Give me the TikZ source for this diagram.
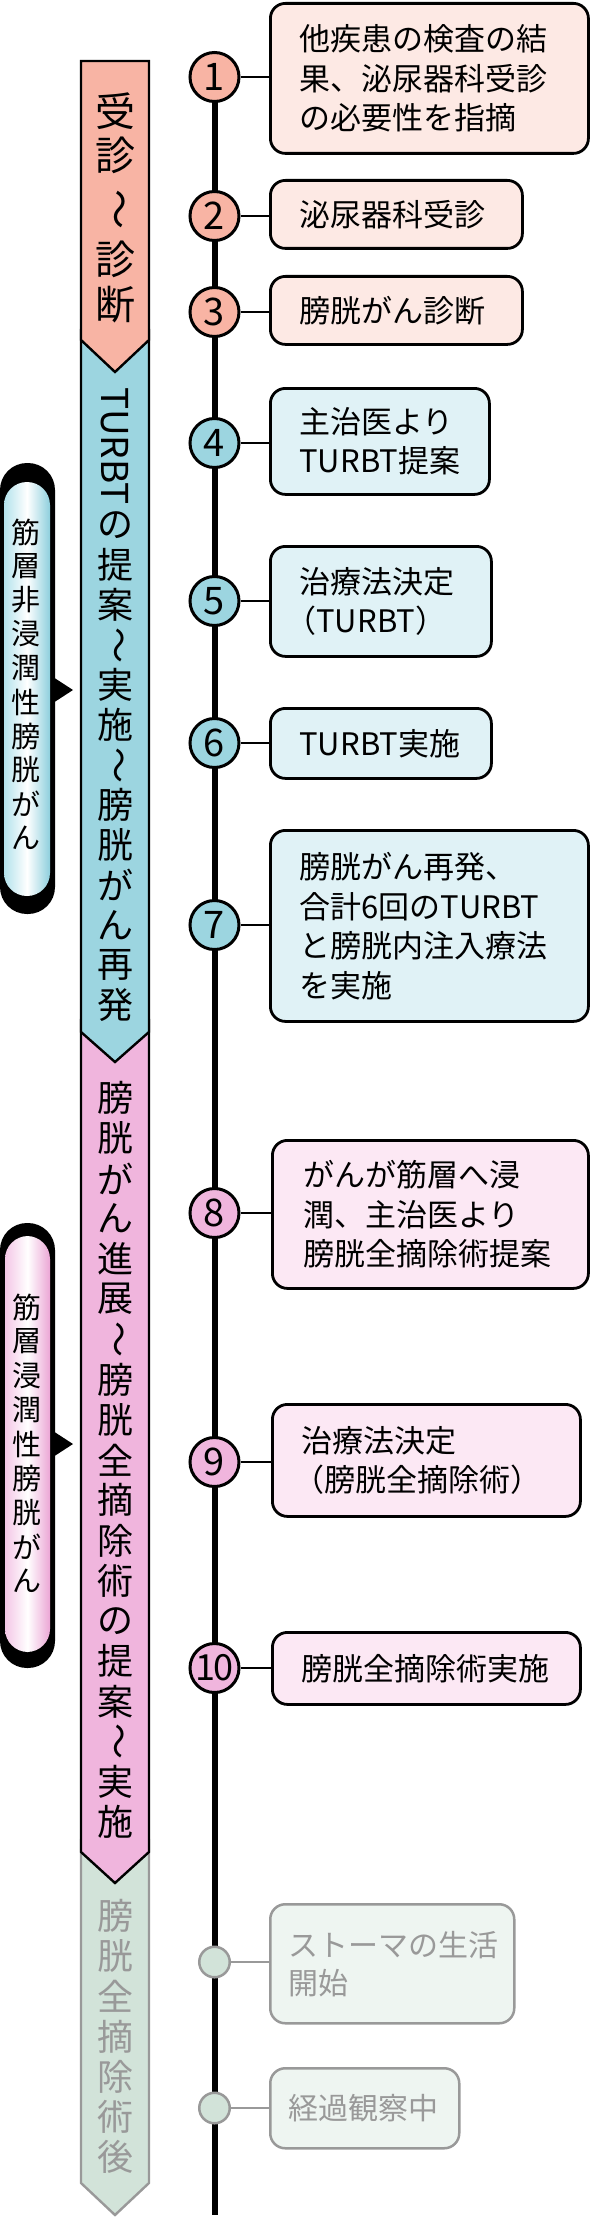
\documentclass[tikz,border=0pt]{standalone}
\usepackage{fontspec}
\setmainfont{Noto Sans CJK JP}
\usepackage{graphicx}
\definecolor{salmonC}{HTML}{F8B4A4}
\definecolor{salmonL}{HTML}{FDE9E4}
\definecolor{blueC}{HTML}{9CD5E0}
\definecolor{blueL}{HTML}{E0F2F6}
\definecolor{pinkC}{HTML}{F0B5DD}
\definecolor{pinkL}{HTML}{FCE8F4}
\definecolor{grayC}{HTML}{D2E3D9}
\definecolor{grayL}{HTML}{EEF5F1}
\definecolor{grayS}{HTML}{999999}
\definecolor{pillBl}{HTML}{B3E2EC}
\definecolor{pillBr}{HTML}{8ECFDD}
\definecolor{pillPl}{HTML}{F4C6E6}
\definecolor{pillPr}{HTML}{EBA6D5}
\tikzset{
  circ/.style={circle, draw=black, line width=3pt, minimum size=49pt, inner sep=0pt, font=\fontsize{38}{38}\selectfont},
  gcirc/.style={circle, draw=grayS, fill=grayC, line width=2.5pt, minimum size=30.5pt, inner sep=0pt},
  evbox/.style={draw=black, line width=2.8pt, rounded corners=15pt, anchor=north west, inner xsep=29pt, inner ysep=0pt, align=left, font=\fontsize{31}{39.5}\selectfont},
  gbox/.style={evbox, draw=grayS, line width=2.5pt, inner xsep=18pt, text=grayS, font=\fontsize{30}{38}\selectfont},
  link/.style={line width=2.6pt},
  glink/.style={line width=2.4pt, draw=grayS},
  stagebar/.style={line width=2.4pt, line join=miter},
  stagech/.style={inner sep=0pt, font=\fontsize{36}{36}\selectfont},
  bigch/.style={inner sep=0pt, font=\fontsize{40}{40}\selectfont},
  pillch/.style={inner sep=0pt, font=\fontsize{29}{29}\selectfont},
}
\begin{document}
\begin{tikzpicture}[x=1pt,y=-1pt]
\useasboundingbox (0,0) rectangle (589,2218);

% ---------- stage bar (drawn bottom first) ----------
\filldraw[stagebar, fill=grayC, draw=grayS] (81,1840) -- (149,1840) -- (149,2183) -- (115,2215) -- (81,2183) -- cycle;
\filldraw[stagebar, fill=pinkC, draw=black] (81,1020) -- (149,1020) -- (149,1852) -- (115,1883) -- (81,1852) -- cycle;
\filldraw[stagebar, fill=blueC, draw=black] (81,330) -- (149,330) -- (149,1032) -- (115,1062) -- (81,1032) -- cycle;
\filldraw[stagebar, fill=salmonC, draw=black] (81,61) -- (149,61) -- (149,340) -- (115,372) -- (81,340) -- cycle;

% stage 1 text
\node[bigch] (s1a) at (115,111) {受};
\node[bigch] (s1b) at (115,155) {診};
\node[bigch] (s1c) at (115,210) {\rotatebox{-90}{～}};
\node[bigch] (s1d) at (115,259) {診};
\node[bigch] (s1e) at (115,305) {断};

% stage 2 text
\node[inner sep=0pt, font=\fontsize{37}{37}\selectfont] (s2t) at (115,446) {\rotatebox{-90}{TURBT}};
\foreach \ch [count=\i from 0] in {の,提,案,{\rotatebox{-90}{～}},実,施,{\rotatebox{-90}{～}},膀,胱,が,ん,再,発}
  \node[stagech] (s2c\i) at (115,525+40*\i) {\ch};

% stage 3 text
\foreach \ch [count=\i from 0] in {膀,胱,が,ん,進,展,{\rotatebox{-90}{～}},膀,胱,全,摘,除,術,の,提,案,{\rotatebox{-90}{～}},実,施}
  \node[stagech] (s3c\i) at (115,1098+40.22*\i) {\ch};

% stage 4 text
\foreach \ch [count=\i from 0] in {膀,胱,全,摘,除,術,後}
  \node[stagech, text=grayS] (s4c\i) at (115,1916+40.2*\i) {\ch};

% ---------- side pills ----------
\fill[black, rounded corners=27pt] (0,463) rectangle (55,914);
\path[left color=pillBl, right color=pillBr, middle color=white, rounded corners=23pt] (4,482) rectangle (50,896);
\fill[black] (53,677) -- (73,690) -- (53,703) -- cycle;
\foreach \ch [count=\i from 0] in {筋,層,非,浸,潤,性,膀,胱,が,ん}
  \node[pillch] (p1c\i) at (26,532+34*\i) {\ch};

\fill[black, rounded corners=27pt] (0,1223) rectangle (55,1668);
\path[left color=pillPl, right color=pillPr, middle color=white, rounded corners=23pt] (5,1236) rectangle (50,1652);
\fill[black] (53,1431) -- (73,1444) -- (53,1457) -- cycle;
\foreach \ch [count=\i from 0] in {筋,層,浸,潤,性,膀,胱,が,ん}
  \node[pillch] (p2c\i) at (27,1307+34.25*\i) {\ch};

% ---------- timeline ----------
\coordinate (tltop) at (214.5,77);
\coordinate (tlend) at (214.5,2215);
\draw[line width=6pt] (tltop) -- (tlend);

% ---------- event boxes ----------
\node[evbox, fill=salmonL, minimum width=318pt, text width=260pt, minimum height=150pt] (b1) at (269,2) {他疾患の検査の結\\果、泌尿器科受診\\の必要性を指摘};
\node[evbox, fill=salmonL, minimum width=252pt, text width=194pt, minimum height=68pt] (b2) at (269,179) {泌尿器科受診};
\node[evbox, fill=salmonL, minimum width=252pt, text width=194pt, minimum height=68pt] (b3) at (269,275) {膀胱がん診断};
\node[evbox, fill=blueL, minimum width=219pt, text width=161pt, minimum height=106pt] (b4) at (269,387) {主治医より\\TURBT提案};
\node[evbox, fill=blueL, minimum width=221pt, text width=163pt, minimum height=110pt] (b5) at (269,545) {治療法決定\\\hspace*{-14pt}（TURBT）};
\node[evbox, fill=blueL, minimum width=221pt, text width=163pt, minimum height=70pt] (b6) at (269,707) {TURBT実施};
\node[evbox, fill=blueL, minimum width=318pt, text width=260pt, minimum height=191pt] (b7) at (269,829) {膀胱がん再発、\\合計6回のTURBT\\と膀胱内注入療法\\を実施};
\node[evbox, fill=pinkL, minimum width=316pt, minimum height=148pt, inner xsep=31pt, text width=254pt] (b8) at (271,1139) {がんが筋層へ浸\\潤、主治医より\\膀胱全摘除術提案};
\node[evbox, fill=pinkL, minimum width=308pt, text width=250pt, minimum height=112pt] (b9) at (271,1403) {治療法決定\\\hspace*{-8pt}（膀胱全摘除術）};
\node[evbox, fill=pinkL, minimum width=308pt, text width=250pt, minimum height=72pt] (b10) at (271,1631) {膀胱全摘除術実施};
\node[gbox, fill=grayL, minimum width=244pt, text width=208pt, minimum height=119pt] (b11) at (269,1903) {ストーマの生活\\開始};
\node[gbox, fill=grayL, minimum width=189pt, text width=153pt, minimum height=80pt] (b12) at (269,2067) {経過観察中};

% ---------- circles ----------
\node[circ, fill=salmonC] (c1) at (214.5,77) {1};
\node[circ, fill=salmonC] (c2) at (214.5,216) {2};
\node[circ, fill=salmonC] (c3) at (214.5,312) {3};
\node[circ, fill=blueC] (c4) at (214.5,443) {4};
\node[circ, fill=blueC] (c5) at (214.5,601) {5};
\node[circ, fill=blueC] (c6) at (214.5,743) {6};
\node[circ, fill=blueC] (c7) at (214.5,925) {7};
\node[circ, fill=pinkC] (c8) at (214.5,1213) {8};
\node[circ, fill=pinkC] (c9) at (214.5,1462) {9};
\node[circ, fill=pinkC, font=\fontsize{36}{36}\selectfont] (c10) at (214.5,1668) {1\kern-2pt0};
\node[gcirc] (c11) at (214.5,1962) {};
\node[gcirc] (c12) at (214.5,2108) {};

% ---------- connectors ----------
\foreach \k in {1,...,10}
  \draw[link] (c\k.east) -- (c\k.east -| b\k.west);
\foreach \k in {11,12}
  \draw[glink] (c\k.east) -- (c\k.east -| b\k.west);
\end{tikzpicture}
\end{document}
